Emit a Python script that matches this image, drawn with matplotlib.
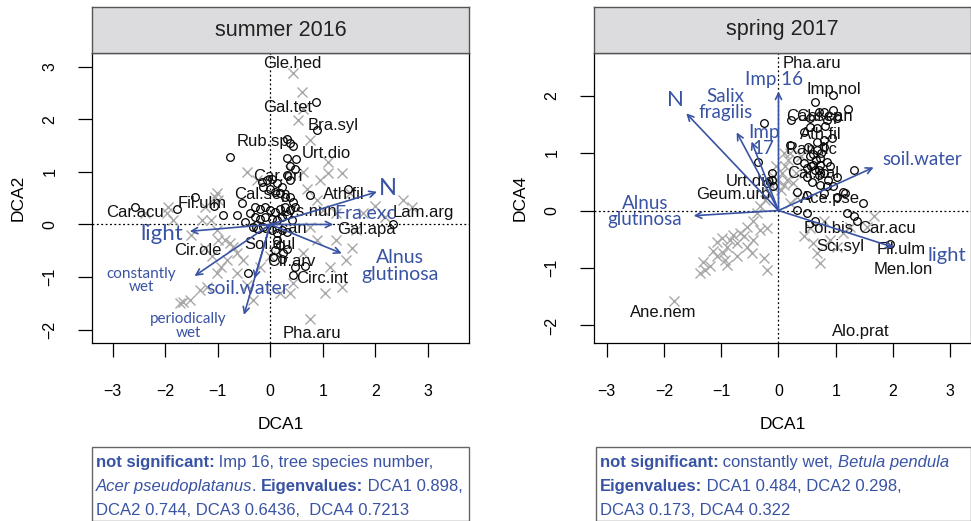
import matplotlib
matplotlib.use("Agg")
import matplotlib.pyplot as plt
from matplotlib.patches import Rectangle
from matplotlib.offsetbox import TextArea, HPacker, VPacker, AnchoredOffsetbox

plt.rcParams["font.family"] = "Liberation Sans"

BLUE = "#3953a4"
GREY = "#a8a8a8"

# ---------------- summer 2016 (DCA1 / DCA2) ----------------
s16_site_x = [0.44, 0.60, 0.53, 0.75, 0.62, 1.10, 1.10, 1.36, -0.45, 0.63, 0.94, 1.51, 2.53, 2.69,
              2.18, 1.64, 1.26, 1.45, 1.36, 1.04, 1.13, 0.75, 0.37, -0.32, -1.02, -1.34, -1.21,
              -1.65, -1.53, -1.72, -1.94, -1.97, -1.84, -1.05, -0.99, -1.24, -1.12, -1.02, -0.86,
              -0.77, -0.64, -0.51, -0.83, -0.93, -0.64, -0.45, -0.26, 0.37, 0.69, 0.88, 1.01, 1.26,
              1.77, 0.75, 0.88, 0.63, 0.44, 0.18, -1.30, -0.99, -0.71, -1.01, -2.38, -1.50, -1.25,
              -1.10, 0.00, -0.20, 1.55, 2.00]
s16_site_y = [2.88, 2.52, 1.98, 1.60, 2.20, 1.19, 0.97, 0.97, 1.00, 1.00, 0.84, 0.59, 0.46, 0.34,
              0.15, -0.11, -0.30, -0.68, -1.19, -1.31, -0.80, -1.79, -1.31, -1.44, -0.93, -1.25, -1.19,
              -1.47, -1.44, -1.50, 0.34, 0.21, 0.08, 0.53, 0.46, 0.34, 0.08, -0.11, -0.30,
              -0.36, -0.55, -0.68, -0.68, -0.80, -0.93, -1.15, 0.84, 1.03, 0.68, 0.46, 0.27, 0.21,
              0.21, -0.04, -0.30, -0.55, -1.12, -1.31, 0.08, -0.30, -0.43, 0.60, 0.22, -0.20, -0.45,
              -0.60, -0.60, -0.80, -0.45, 0.35]

s16_spec_x = [0.87, 0.88, -0.77, 0.31, 0.37, 0.43, 0.31, 0.49, 0.37, 0.48, 1.48, 0.75, -2.57, -1.77,
              -1.43, -1.07, -0.89, -0.54, -0.64, -0.48, 2.34, -0.42, 0.47, 0.66, 0.44,
              -0.16, -0.07, 0.03, 0.12, 0.22, 0.31, 0.37, -0.13, -0.01, 0.09, 0.18, 0.28, 0.37, 0.44,
              -0.29, -0.20, -0.10, -0.01, 0.09, 0.18, 0.28, 0.37, 0.47, -0.39, -0.29, -0.20, -0.10,
              0.03, 0.12, 0.22, 0.31, 0.41, -0.32, -0.23, -0.13, 0.03, 0.12, 0.22, 0.31, 0.12, 0.18,
              0.09, 0.25, 0.31, 0.06, 0.22]
s16_spec_y = [2.32, 1.79, 1.29, 1.62, 1.54, 1.49, 1.27, 1.24, 1.12, 1.05, 0.67, 0.56, 0.34, 0.30,
              0.53, 0.35, 0.18, 0.40, 0.18, 0.05, 0.00, -0.93, -0.80, -0.79, -0.96,
              0.81, 0.84, 0.87, 0.78, 0.72, 0.94, 0.84, 0.72, 0.68, 0.62, 0.59, 0.53, 0.53, 0.43,
              0.34, 0.30, 0.34, 0.27, 0.24, 0.30, 0.34, 0.27, 0.34, 0.21, 0.15, 0.11, 0.15,
              0.11, 0.08, 0.15, 0.18, 0.08, -0.04, -0.08, -0.04, -0.11, -0.17, -0.11, -0.14, -0.30, -0.39,
              -0.49, -0.55, -0.46, -0.61, -0.65]

s16_lab_names = ["Gle.hed", "Gal.tet", "Bra.syl", "Rub.sp", "Urt.dio", "Car.ori", "Ath.fil", "Cal.sep",
                 "Fil.ulm", "Car.acu", "Lam.arg", "Gal.apa", "Lys.nun", "Cal.can", "Sol.dul",
                 "Cir.arv", "Circ.int", "Cir.ole", "Pha.aru"]
s16_lab_x = [0.42, 0.34, 1.20, -0.13, 1.07, 0.15, 1.39, -0.15, -1.29, -2.57, 2.91, 1.82, 0.72, 0.15,
             0.00, 0.41, 0.98, -1.37, 0.80]
s16_lab_y = [3.06, 2.22, 1.89, 1.57, 1.34, 0.91, 0.56, 0.57, 0.40, 0.23, 0.23, -0.10, 0.25, -0.08,
             -0.39, -0.71, -1.03, -0.50, -2.07]

s16_env_names = ["N", "Fra.exc", "Alnus\nglutinosa", "light", "constantly\nwet", "soil.water",
                 "periodically\nwet"]
s16_env_x = [2.03, 1.20, 1.36, -1.53, -1.44, -0.30, -0.50]
s16_env_y = [0.62, 0.00, -0.55, -0.13, -0.98, -1.03, -1.72]

# ---------------- spring 2017 (DCA1 / DCA4) ----------------
s17_site_x = [-1.83, -1.37, -1.28, -1.19, -1.31, -1.08, -0.96, -0.90, -0.84, -0.79, -0.99, -1.08,
              -0.67, -0.73, -0.61, -0.93, -0.73, -0.55, -0.44, -0.47, -0.26, -0.20, -0.32, -0.55,
              -0.44, -0.38, -0.32, -0.23, -0.17, -0.12, -0.03, 0.06, 0.12, 0.17, 0.20, 0.15, 0.26,
              0.32, 0.20, 0.44, 0.61, 0.67, 0.73, 0.90, 1.02, 1.13, 1.25, 1.66, 1.54, 0.79, 0.55,
              -0.05, 0.09, -0.10, 0.05, -0.20, -0.90, -1.15, 0.30, 0.40, 0.10]
s17_site_y = [-1.58, -1.09, -1.03, -0.97, -0.89, -0.80, -0.74, -0.63, -0.51, -0.42, -0.48, -0.54,
              -0.39, -0.57, -0.45, -0.86, -0.80, -0.63, -0.51, -0.74, -0.83, -1.03, -0.34, -0.28,
              -0.19, -0.05, 0.07, 0.19, 0.30, 0.42, 0.53, 0.65, 0.77, 0.88, 1.00, 0.53, 0.48,
              0.24, 0.13, -0.45, -0.57, -0.74, -0.92, -0.51, -0.63, -0.39, -0.28, -0.10, -0.28, -0.19, -0.31,
              0.77, 1.00, 0.60, 0.35, -0.30, -0.95, -0.70, 0.65, 0.95, 0.45]

s17_spec_x = [0.96, 0.64, 1.22, 0.96, 0.79, 0.70, 0.22, -0.26, 0.55, 0.84, 1.02, 0.55, 0.67, 0.81,
              0.93, 0.44, 0.79, 0.20, -0.35, -0.12, -0.12, -0.20, -0.09, 0.52, 0.67, 0.79, 0.55,
              0.73, 0.84, 0.90, 0.32, 0.44, 0.49, 0.61, 0.70, 0.79, 0.87, 1.02, 0.49, 0.58, 0.73,
              0.84, 0.96, 1.31, 1.13, 1.48, 1.19, 1.31, 1.37, 0.32, 0.49, 0.64, 0.32, 0.49, 0.79,
              1.02, 1.16, 1.95, 0.60, 0.66, 0.72, 0.63, 0.70, 0.57, 0.75, 0.68]
s17_spec_y = [2.01, 1.88, 1.76, 1.74, 1.72, 1.72, 1.58, 1.53, 1.61, 1.58, 1.61, 1.45, 1.43, 1.47,
              1.26, 1.37, 1.23, 1.14, 0.85, 0.65, 0.53, 0.48, 0.42, 1.11, 1.06, 1.11, 0.94,
              0.91, 0.85, 0.77, 0.88, 0.82, 0.74, 0.79, 0.71, 0.65, 0.53, 0.59, 0.59, 0.50, 0.45,
              0.42, 0.42, 0.71, 0.33, 0.13, -0.05, -0.10, -0.19, 0.01, -0.05, -0.19, 0.33, 0.27, 0.30,
              0.24, 0.30, -0.58, 0.98, 0.88, 0.80, 0.70, 0.62, 0.78, 1.00, 1.20]

s17_lab_names = ["Pha.aru", "Imp.nol", "Cal.sep", "Cal.can", "Ath.fil", "Ran.fic", "Cal.pal",
                 "Urt.dio", "Geum.urb", "Ace.pse", "Pol.bis", "Car.acu", "Sci.syl", "Fil.ulm",
                 "Men.lon", "Ane.nem", "Alo.prat"]
s17_lab_x = [0.58, 0.96, 0.62, 0.80, 0.73, 0.58, 0.61, -0.49, -0.79, 0.90, 0.87, 1.89, 1.08, 2.15,
             2.18, -2.01, 1.43]
s17_lab_y = [2.56, 2.11, 1.63, 1.63, 1.32, 1.06, 0.65, 0.50, 0.27, 0.21, -0.31, -0.31, -0.63, -0.67,
             -1.03, -1.77, -2.10]

s17_env_names = ["Imp 16", "N", "Salix\nfragilis", "Imp\n17", "soil.water", "light",
                 "Alnus\nglutinosa"]
s17_env_x = [0.00, -1.61, -0.73, -0.47, 1.66, 2.01, -1.48]
s17_env_y = [2.07, 1.69, 1.36, 1.20, 0.75, -0.64, -0.09]

# where the blue labels sit, and their sizes
s16_env_lab = [(2.23, 0.68, 17), (1.80, 0.21, 14), (2.47, -0.79, 14), (-2.07, -0.18, 16),
               (-2.45, -1.07, 11), (-0.42, -1.22, 14), (-1.56, -1.93, 11)]
s17_env_lab = [(-0.07, 2.28, 13.5), (-1.80, 1.92, 16), (-0.93, 1.84, 13.5), (-0.26, 1.22, 13.5),
               (2.50, 0.89, 13.5), (2.93, -0.79, 14.5), (-2.33, -0.02, 13.5)]


fig = plt.figure(figsize=(9.71, 5.21), dpi=100)


def panel(rect, title, ylab, xlim, ylim, yticks, sx, sy, px, py, lx, ly, ln, ex, ey, en, elab):
    ax = fig.add_axes(rect)
    ax.axhline(0, color="black", ls=(0, (1.5, 2)), lw=0.9, zorder=1)
    ax.axvline(0, color="black", ls=(0, (1.5, 2)), lw=0.9, zorder=1)
    ax.plot(sx, sy, "x", color=GREY, ms=6.5, mew=1.0, zorder=2)
    ax.plot(px, py, "o", mfc="none", mec="black", ms=5.5, mew=0.9, zorder=3)
    for name, x, y in zip(ln, lx, ly):
        ax.text(x, y, name, fontsize=12, ha="center", va="center", color="#111111", zorder=4)
    for name, x, y, (tx, ty, fs) in zip(en, ex, ey, elab):
        ax.annotate("", xy=(x, y), xytext=(0, 0),
                    arrowprops=dict(arrowstyle="->", color=BLUE, lw=1.2, mutation_scale=11,
                                    shrinkA=0, shrinkB=0), zorder=5)
        ax.text(tx, ty, name, fontsize=fs, ha="center", va="center", color=BLUE,
                family="Lato", linespacing=0.95, zorder=6)
    ax.set_xlim(*xlim)
    ax.set_ylim(*ylim)
    ax.set_xticks(range(-3, 4))
    ax.set_yticks(yticks)
    ax.tick_params(length=10, width=0.9, labelsize=11.5, direction="out")
    ax.tick_params(axis="x", pad=19.5)
    ax.tick_params(axis="y", pad=15)
    for t in ax.get_yticklabels():
        t.set_rotation(90)
        t.set_va("center")
    ax.set_xlabel("DCA1", fontsize=12.5, labelpad=13)
    ax.set_ylabel(ylab, fontsize=12.5, labelpad=12)
    for s in ax.spines.values():
        s.set_linewidth(0.9)
    # grey title strip
    st = fig.add_axes([rect[0], rect[1] + rect[3], rect[2], 46 / 521])
    st.set_facecolor("#dcdcde")
    st.set_xticks([])
    st.set_yticks([])
    for s in st.spines.values():
        s.set_color("#555555")
        s.set_linewidth(1.0)
    st.text(0.5, 0.5, title, fontsize=15.5, ha="center", va="center", color="#222222",
            transform=st.transAxes)
    return ax


panel([92 / 971, 177.7 / 521, 377 / 971, 290.3 / 521], "summer 2016", "DCA2",
      (-3.39, 3.78), (-2.26, 3.26), range(-2, 4),
      s16_site_x, s16_site_y, s16_spec_x, s16_spec_y, s16_lab_x, s16_lab_y, s16_lab_names,
      s16_env_x, s16_env_y, s16_env_names, s16_env_lab)
panel([594 / 971, 177.7 / 521, 377 / 971, 290.3 / 521], "spring 2017", "DCA4",
      (-3.22, 3.36), (-2.31, 2.74), range(-2, 3),
      s17_site_x, s17_site_y, s17_spec_x, s17_spec_y, s17_lab_x, s17_lab_y, s17_lab_names,
      s17_env_x, s17_env_y, s17_env_names, s17_env_lab)

# overlay in pixel units for the note boxes
ov = fig.add_axes([0, 0, 1, 1])
ov.set_xlim(0, 971)
ov.set_ylim(521, 0)
ov.axis("off")


def seg(s, style=None):
    props = dict(color=BLUE, fontsize=12, family="Liberation Sans")
    if style == "b":
        props["fontweight"] = "bold"
    if style == "i":
        props["fontstyle"] = "italic"
    return TextArea(s, textprops=props)


def note(x0, y0, x1, y1, lines):
    ov.add_patch(Rectangle((x0, y0), x1 - x0, y1 - y0, fill=False, ec="#666666", lw=1.0))
    rows = [HPacker(children=[seg(t, st) for t, st in ln], pad=0, sep=0, align="baseline")
            for ln in lines]
    box = VPacker(children=rows, pad=0, sep=6.5, align="left")
    ab = AnchoredOffsetbox(loc="upper left", child=box, pad=0, borderpad=0, frameon=False,
                           bbox_to_anchor=(x0 + 3.5, y0 + 8), bbox_transform=ov.transData)
    ov.add_artist(ab)


note(92, 447, 469, 521, [
    [("not significant:", "b"), (" Imp 16, tree species number,", None)],
    [("Acer pseudoplatanus", "i"), (". ", None), ("Eigenvalues:", "b"), (" DCA1 0.898,", None)],
    [("DCA2 0.744, DCA3 0.6436,  DCA4 0.7213", None)],
])
note(596, 447, 971, 521, [
    [("not significant:", "b"), (" constantly wet, ", None), ("Betula pendula", "i")],
    [("Eigenvalues:", "b"), (" DCA1 0.484, DCA2 0.298,", None)],
    [("DCA3 0.173, DCA4 0.322", None)],
])

fig.savefig("out.png", dpi=100)
